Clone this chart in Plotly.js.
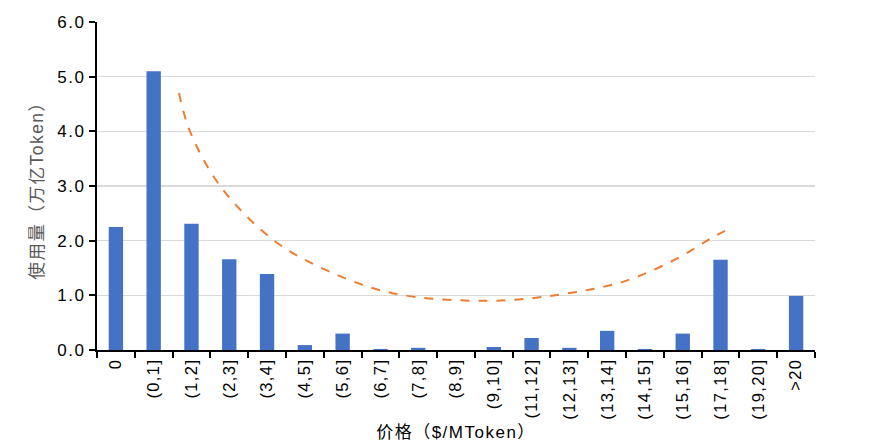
<!DOCTYPE html>
<html>
<head>
<meta charset="utf-8">
<script src="https://cdn.plot.ly/plotly-3.0.1.min.js"></script>
<style>
html,body{margin:0;padding:0;background:#fff;}
#chart{width:876px;height:446px;}
.xtick text{letter-spacing:1.4px;}
.ytick text{letter-spacing:1.6px;}
.xtitle,.ytitle{letter-spacing:1.5px;}
</style>
</head>
<body>
<div id="chart"></div>
<script>
const categories = ["0","(0,1]","(1,2]","(2,3]","(3,4]","(4,5]","(5,6]","(6,7]","(7,8]","(8,9]","(9,10]","(11,12]","(12,13]","(13,14]","(14,15]","(15,16]","(17,18]","(19,20]",">20"];
const usage = [2.25,5.10,2.31,1.66,1.39,0.09,0.30,0.02,0.04,0.00,0.055,0.22,0.04,0.35,0.02,0.30,1.65,0.02,0.99];
// dashed trend curve, x in category-index units
const trendX = [1.67,1.96,2.76,4.17,5.57,7.32,9.87,11.80,13.47,14.87,15.74,16.27];
const trendY = [4.70,4.00,3.00,2.01,1.46,1.04,0.90,1.02,1.26,1.68,2.04,2.23];

const font = "'Liberation Sans', Arial, 'Noto Sans CJK SC', sans-serif";
const data = [
  {type:'bar', x:categories, y:usage, marker:{color:'#4472C4'}, width:0.38, hoverinfo:'x+y'},
  {type:'scatter', mode:'lines', x:trendX, y:trendY, xaxis:'x2', yaxis:'y',
   line:{color:'#ED7D31', width:2, dash:'dash', shape:'spline', smoothing:1}}
];
const layout = {
  width:876, height:446,
  margin:{l:97, r:61, t:22, b:96},
  paper_bgcolor:'#fff', plot_bgcolor:'#fff',
  showlegend:false,
  font:{family:font, color:'#000'},
  xaxis:{
    type:'category', tickangle:-90, tickson:'boundaries',
    ticks:'outside', ticklen:6, tickwidth:2, tickcolor:'#000',
    showline:true, linecolor:'#000', linewidth:2, showgrid:false,
    tickfont:{size:16.5, color:'#000', family:font},
    title:{text:'价格（$/MToken）', font:{size:17, color:'#000', family:font}, standoff:7},
    range:[-0.5,18.5]
  },
  xaxis2:{overlaying:'x', range:[-0.5,18.5], visible:false, showgrid:false},
  yaxis:{
    range:[0,6], dtick:1, tickformat:'.1f',
    ticks:'outside', ticklen:6, tickwidth:2, tickcolor:'#000',
    showline:true, linecolor:'#000', linewidth:2,
    showgrid:true, gridcolor:'#d9d9d9', gridwidth:1.5, zeroline:false,
    tickfont:{size:17, color:'#000', family:font},
    title:{text:'使用量（万亿Token）', font:{size:17.5, color:'#595959', family:font}, standoff:9}
  }
};
Plotly.newPlot('chart', data, layout, {displayModeBar:false, staticPlot:true});
</script>
</body>
</html>
